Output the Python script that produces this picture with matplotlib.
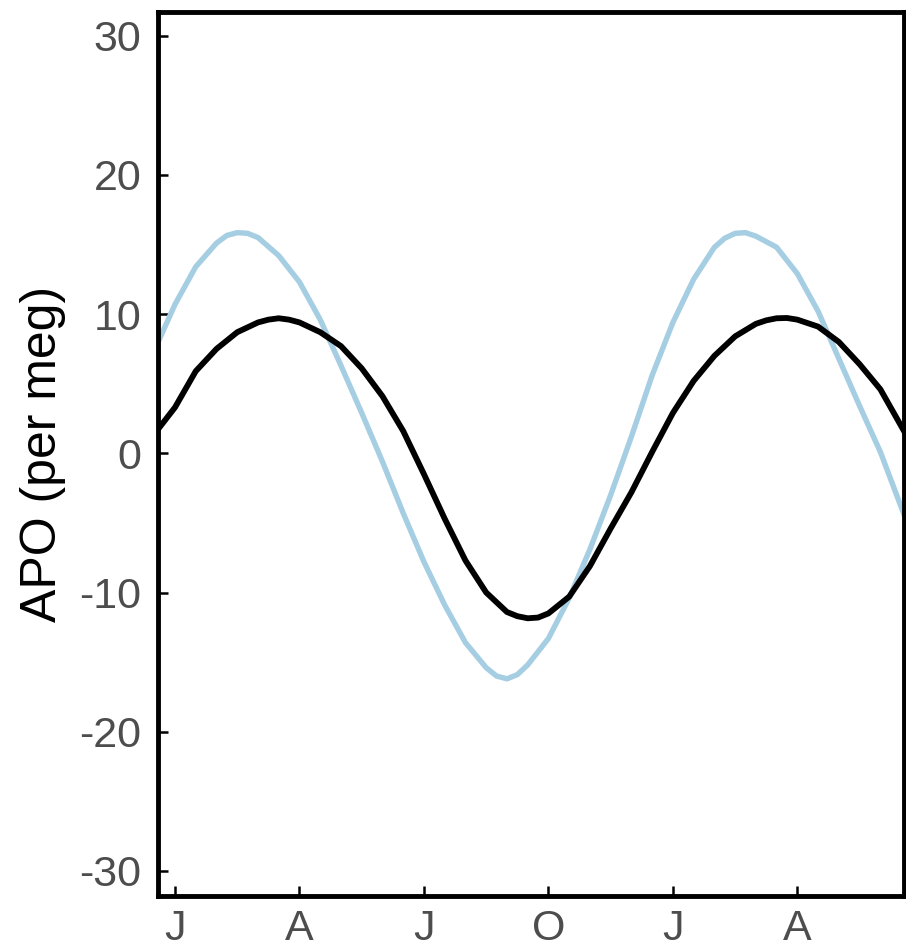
import matplotlib
matplotlib.use("Agg")
from matplotlib import pyplot as plt

# month since 1 Jan (0 = J, 3 = A, 6 = J, 9 = O, 12 = J, 15 = A)
black_month = [-0.39, 0.0, 0.5, 1.0, 1.5, 2.0, 2.25, 2.5, 2.75, 3.0, 3.5, 4.0, 4.5,
               5.0, 5.5, 6.0, 6.5, 7.0, 7.5, 8.0, 8.25, 8.5, 8.75, 9.0, 9.5, 10.0,
               10.5, 11.0, 11.5, 12.0, 12.5, 13.0, 13.5, 14.0, 14.25, 14.5, 14.75,
               15.0, 15.5, 16.0, 16.5, 17.0, 17.57]
black_apo = [1.8, 3.3, 5.9, 7.5, 8.7, 9.4, 9.6, 9.7, 9.6, 9.4, 8.7, 7.7, 6.1,
             4.1, 1.6, -1.5, -4.7, -7.7, -10.0, -11.4, -11.7, -11.85, -11.8, -11.5, -10.3, -8.1,
             -5.4, -2.8, 0.1, 2.9, 5.2, 7.0, 8.4, 9.3, 9.55, 9.7, 9.72,
             9.6, 9.1, 8.0, 6.4, 4.6, 1.6]

blue_month = [-0.39, 0.0, 0.5, 1.0, 1.25, 1.5, 1.75, 2.0, 2.5, 3.0, 3.5, 4.0, 4.5,
              5.0, 5.5, 6.0, 6.5, 7.0, 7.5, 7.75, 8.0, 8.25, 8.5, 9.0, 9.5, 10.0,
              10.5, 11.0, 11.5, 12.0, 12.5, 13.0, 13.25, 13.5, 13.75, 14.0, 14.5,
              15.0, 15.5, 16.0, 16.5, 17.0, 17.33, 17.57]
blue_apo = [8.1, 10.7, 13.4, 15.1, 15.65, 15.85, 15.8, 15.5, 14.2, 12.3, 9.6, 6.3, 2.9,
            -0.6, -4.3, -7.8, -10.9, -13.6, -15.4, -16.0, -16.2, -15.9, -15.2, -13.3, -10.4, -6.9,
            -3.0, 1.2, 5.6, 9.4, 12.5, 14.8, 15.45, 15.8, 15.85, 15.6, 14.8,
            12.9, 10.2, 6.8, 3.4, 0.1, -2.5, -4.4]

tick_pos = [0, 3, 6, 9, 12, 15]
tick_lab = ["J", "A", "J", "O", "J", "A"]
y_ticks = [-30, -20, -10, 0, 10, 20, 30]

plt.rcParams['font.family'] = ['Liberation Sans', 'DejaVu Sans']
plt.rcParams['axes.unicode_minus'] = False

fig = plt.figure(figsize=(9.06, 9.48), dpi=100)
ax = fig.add_axes([158 / 906, 1 - 896 / 948, 746 / 906, 884 / 948])

ax.plot(blue_month, blue_apo, color='#a6cee3', lw=3.9, solid_joinstyle='round')
ax.plot(black_month, black_apo, color='black', lw=4.2, solid_joinstyle='round')

ax.set_xlim(-0.41, 17.57)
ax.set_ylim(-31.8, 31.7)
ax.set_xticks(tick_pos)
ax.set_xticklabels(tick_lab)
ax.set_yticks(y_ticks)

for s in ax.spines.values():
    s.set_linewidth(3.5)
ax.tick_params(direction='in', length=7, width=1.8, labelsize=31,
               labelcolor='#4d4d4d', color='black')
ax.tick_params(axis='y', pad=12)
ax.tick_params(axis='x', pad=9)

ax.set_ylabel("APO (per meg)", fontsize=36)
ax.yaxis.set_label_coords(-92 / 746, 0.5)

fig.savefig("out.png", dpi=100)
